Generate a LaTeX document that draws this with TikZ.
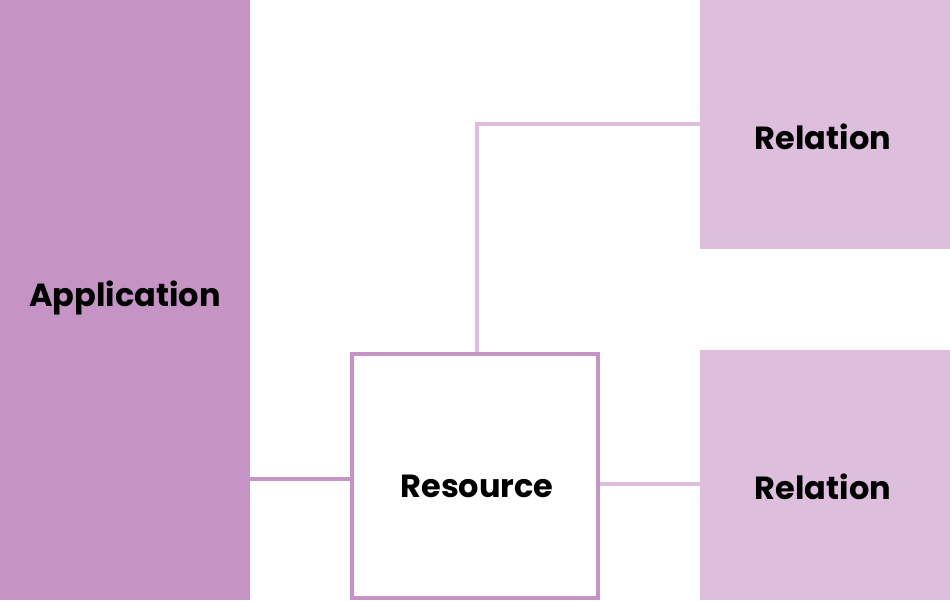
\documentclass[tikz,border=0pt]{standalone}
\usepackage{fontspec}
\setmainfont{Poppins}
\definecolor{darkpurple}{HTML}{C594C5}
\definecolor{lightpurple}{HTML}{DDBEDD}
\begin{document}
\begin{tikzpicture}[x=1pt,y=-1pt,
  lbl/.style={font=\fontsize{32}{36}\selectfont\bfseries, text=black},
  darkbox/.style={fill=darkpurple, draw=none, inner sep=0pt},
  lightbox/.style={fill=lightpurple, draw=none, inner sep=0pt},
  resbox/.style={draw=darkpurple, line width=4pt, fill=white, inner sep=0pt},
  darkline/.style={draw=darkpurple, line width=4pt},
  lightline/.style={draw=lightpurple, line width=4pt}]
\useasboundingbox (0,0) rectangle (950,602);
\fill[white] (0,0) rectangle (950,602);
\node[darkbox, minimum width=250pt, minimum height=600pt, anchor=north west] (app) at (0,0) {};
\node[lightbox, minimum width=250pt, minimum height=249pt, anchor=north west] (rel1) at (700,0) {};
\node[lightbox, minimum width=250pt, minimum height=250pt, anchor=north west] (rel2) at (700,350) {};
\node[resbox, minimum width=246pt, minimum height=244pt, anchor=center] (res) at (475,476) {};
\coordinate (corner) at (477,124);
\draw[darkline] (app.east |- 0,479) -- (res.west |- 0,479);
\draw[lightline] (res.north -| 477,0) -- (corner) -- (rel1.west |- corner);
\draw[lightline] (res.east |- 0,484) -- (rel2.west |- 0,484);
\node[lbl] at (125,298) {Application};
\node[lbl] at (823,137) {Relation};
\node[lbl] at (823,487) {Relation};
\node[lbl] at (477,486) {Resource};
\end{tikzpicture}
\end{document}
